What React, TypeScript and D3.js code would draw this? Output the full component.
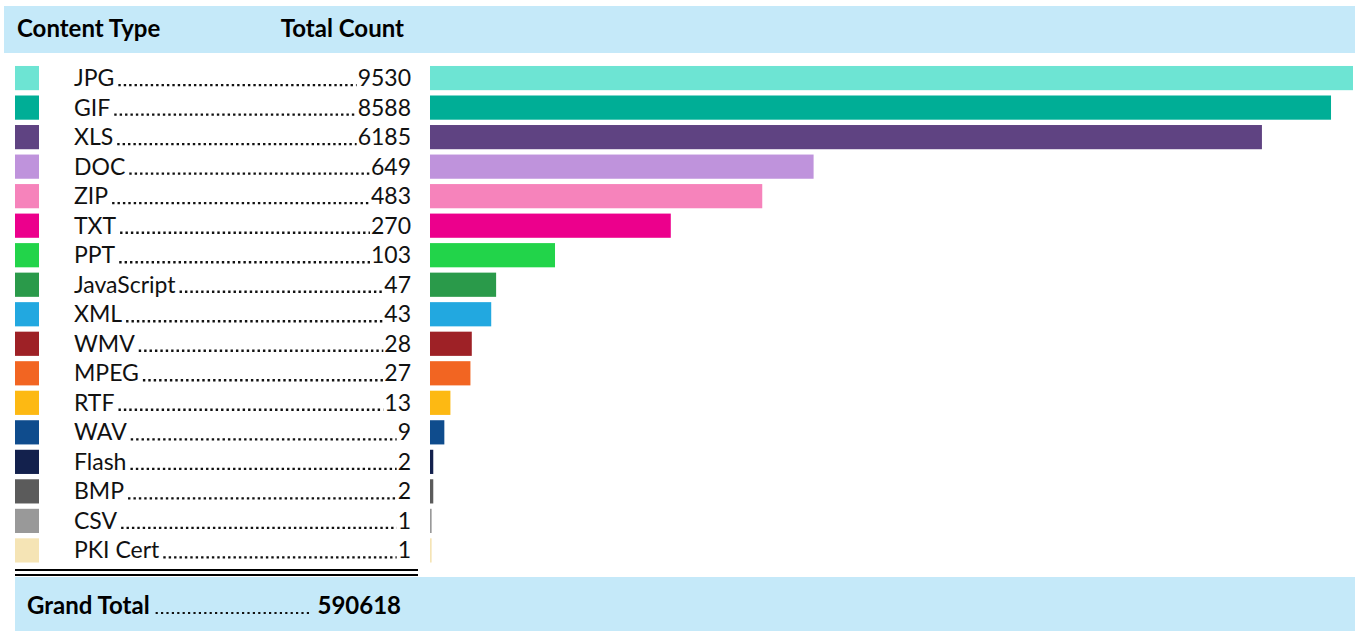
import { useRef, useEffect } from 'react'
import * as d3 from 'd3'

const types = ['JPG', 'GIF', 'XLS', 'DOC', 'ZIP', 'TXT', 'PPT', 'JavaScript', 'XML', 'WMV', 'MPEG', 'RTF', 'WAV', 'Flash', 'BMP', 'CSV', 'PKI Cert']
const counts = [9530, 8588, 6185, 649, 483, 270, 103, 47, 43, 28, 27, 13, 9, 2, 2, 1, 1]
const colors = ['#6de4d3', '#00ae96', '#5f4382', '#bf93dc', '#f683bb', '#ec008c', '#22d44a', '#2a9a4a', '#22a8e0', '#9e2126', '#f26522', '#fdb913', '#0f4c8d', '#13214d', '#5b5b5b', '#999999', '#f5e4b5']
const grandTotal = 590618

export default function App() {
  const svgRef = useRef<SVGSVGElement>(null)

  useEffect(() => {
    const w = 1367
    const h = 631
    const font = 'Lato, "Open Sans", sans-serif'
    const svg = d3.select(svgRef.current)
      .attr('width', w)
      .attr('height', h)
      .style('position', 'absolute')
      .style('left', 0)
      .style('top', 0)
    svg.selectAll('*').remove()

    // header band
    svg.append('rect')
      .attr('x', 4).attr('y', 6).attr('width', 1351).attr('height', 47)
      .attr('fill', '#c5e9f9')
    svg.append('text')
      .attr('x', 17).attr('y', 37)
      .attr('font-family', font).attr('font-weight', 700).attr('font-size', 24)
      .text('Content Type')
    svg.append('text')
      .attr('x', 404).attr('y', 37).attr('text-anchor', 'end')
      .attr('font-family', font).attr('font-weight', 700).attr('font-size', 24)
      .text('Total Count')

    //scales
    const y = d3.scaleBand()
      .domain(types)
      .range([64.5, 564])
      .paddingInner(0.18)
      .paddingOuter(0.05)

    const x = d3.scaleSymlog()
      .constant(130)
      .domain([0, d3.max(counts)!])
      .range([430, 1353])

    const rows = svg.selectAll('.row')
      .data(types)
      .join('g')
      .attr('class', 'row')
      .attr('transform', d => `translate(0, ${y(d)})`)

    const bh = y.bandwidth()

    rows.append('rect')
      .attr('x', 15).attr('width', 24).attr('height', bh)
      .attr('fill', (d, i) => colors[i])

    rows.append('rect')
      .attr('x', x(0)).attr('height', bh)
      .attr('width', (d, i) => x(counts[i]) - x(0))
      .attr('fill', (d, i) => colors[i])

    const labels = rows.append('text')
      .attr('x', 74).attr('y', bh / 2 + 8)
      .attr('font-family', font).attr('font-size', 23)
      .attr('fill', '#111')
      .text(d => d)

    const values = rows.append('text')
      .attr('x', 411).attr('y', bh / 2 + 8).attr('text-anchor', 'end')
      .attr('font-family', font).attr('font-size', 23)
      .attr('fill', '#111')
      .text((d, i) => counts[i])

    // dotted leaders
    const labelEnds = labels.nodes().map(n => 74 + (n as SVGTextElement).getComputedTextLength())
    const valueStarts = values.nodes().map(n => 411 - (n as SVGTextElement).getComputedTextLength())
    rows.append('line')
      .attr('x1', (d, i) => labelEnds[i] + 4)
      .attr('x2', (d, i) => valueStarts[i] - 1)
      .attr('y1', bh / 2 + 7).attr('y2', bh / 2 + 7)
      .attr('stroke', '#111').attr('stroke-width', 2.4)
      .attr('stroke-dasharray', '2.4 3')

    // double rule
    ;[570, 575].forEach(yy => {
      svg.append('line')
        .attr('x1', 15).attr('x2', 418).attr('y1', yy).attr('y2', yy)
        .attr('stroke', '#000').attr('stroke-width', 2)
    })

    // footer band
    svg.append('rect')
      .attr('x', 15).attr('y', 577).attr('width', 1340).attr('height', 54)
      .attr('fill', '#c5e9f9')
    const gt = svg.append('text')
      .attr('x', 27).attr('y', 614)
      .attr('font-family', font).attr('font-weight', 700).attr('font-size', 24)
      .text('Grand Total')
    const gv = svg.append('text')
      .attr('x', 401).attr('y', 614).attr('text-anchor', 'end')
      .attr('font-family', font).attr('font-weight', 700).attr('font-size', 24)
      .text(grandTotal)
    const gtEnd = 27 + (gt.node() as SVGTextElement).getComputedTextLength()
    const gvStart = 401 - (gv.node() as SVGTextElement).getComputedTextLength()
    svg.append('line')
      .attr('x1', gtEnd + 6).attr('x2', gvStart - 6)
      .attr('y1', 613).attr('y2', 613)
      .attr('stroke', '#111').attr('stroke-width', 2.2)
      .attr('stroke-dasharray', '2.2 3.2')
  }, [])

  return <svg ref={svgRef}></svg>
}
